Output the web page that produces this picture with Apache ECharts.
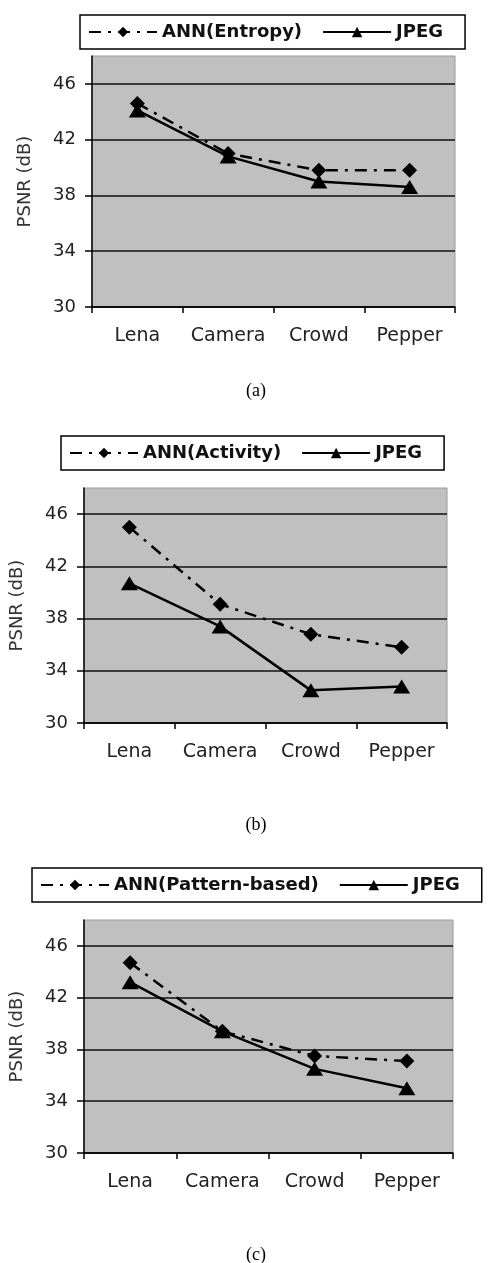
<!DOCTYPE html>
<html>
<head>
<meta charset="utf-8">
<script src="https://cdn.jsdelivr.net/npm/echarts@6/dist/echarts.min.js"></script>
<style>
  html, body { margin: 0; padding: 0; background: #ffffff; }
  #chart { width: 498px; height: 1263px; }
</style>
</head>
<body>
<div id="chart"></div>
<script>
// ---- data ----
const categories = ['Lena', 'Camera', 'Crowd', 'Pepper'];
const annEntropy  = [44.6, 41.0, 39.8, 39.8];
const jpegA       = [44.1, 40.8, 39.0, 38.6];
const annActivity = [45.0, 39.1, 36.8, 35.8];
const jpegB       = [40.7, 37.4, 32.5, 32.8];
const annPattern  = [44.7, 39.4, 37.5, 37.1];
const jpegC       = [43.2, 39.4, 36.5, 35.0];
const annNames = ['ANN(Entropy)', 'ANN(Activity)', 'ANN(Pattern-based)'];
const jpegName = 'JPEG';
const captions = ['(a)', '(b)', '(c)'];
const yMin = 30, yMax = 48, yStep = 4;
const yTitle = 'PSNR (dB)';

// ---- layout ----
const grids = [
  { left: 92, right: 43, top: 56, height: 251 },
  { left: 82, right: 51, top: 488, height: 235 },
  { left: 78, right: 45, top: 920, height: 233 }
];
const legendPos = [
  { left: 80, top: 15 },
  { left: 61, top: 436 },
  { left: 32, top: 868 }
];
const captionY = [391, 825, 1255];
const annData = [annEntropy, annActivity, annPattern];
const jpegData = [jpegA, jpegB, jpegC];

const font = 'DejaVu Sans, Verdana, sans-serif';

const option = {
  backgroundColor: '#ffffff',
  animation: false,
  grid: grids.map(g => Object.assign({
    show: true, backgroundColor: '#c0c0c0', borderColor: '#9a9a9a', borderWidth: 1
  }, g)),
  legend: legendPos.map((p, i) => ({
    left: p.left, top: p.top,
    data: [annNames[i], jpegName],
    orient: 'horizontal',
    itemWidth: 68, itemHeight: 13, itemGap: 20,
    padding: [8, 22, 8, 8],
    borderColor: '#000', borderWidth: 1.5,
    backgroundColor: '#fff',
    selectedMode: false,
    textStyle: { fontFamily: font, fontWeight: 'bold', fontSize: 18, color: '#111' }
  })),
  xAxis: grids.map((g, i) => ({
    type: 'category', gridIndex: i, data: categories, boundaryGap: true,
    axisLine: { lineStyle: { color: '#000', width: 1.5 } },
    axisTick: { show: true, length: 6, lineStyle: { color: '#000', width: 1.5 } },
    axisLabel: { interval: 0, hideOverlap: false, fontFamily: font, fontSize: 19, color: '#222', margin: 20 },
    splitLine: { show: false }
  })),
  yAxis: grids.map((g, i) => ({
    type: 'value', gridIndex: i, min: yMin, max: yMax, interval: yStep,
    name: yTitle, nameLocation: 'middle', nameGap: 58, nameRotate: 90,
    nameTextStyle: { fontFamily: font, fontSize: 18, color: '#333' },
    axisLine: { show: true, lineStyle: { color: '#000', width: 1.5 } },
    axisTick: { show: true, length: 7, lineStyle: { color: '#000', width: 1.5 } },
    axisLabel: { fontFamily: font, fontSize: 18, color: '#222', margin: 16, showMaxLabel: false },
    splitLine: { show: true, showMaxLine: false, lineStyle: { color: '#111', width: 1.5 } }
  })),
  series: [],
  graphic: captionY.map((y, i) => ({
    type: 'text', x: 256, y: y,
    style: { text: captions[i], fontFamily: 'Liberation Serif, Times New Roman, serif', fontSize: 18,
             fill: '#000', align: 'center', verticalAlign: 'middle' }
  }))
};

for (let i = 0; i < 3; i++) {
  option.series.push({
    type: 'line', name: annNames[i], xAxisIndex: i, yAxisIndex: i,
    data: annData[i], symbol: 'diamond', symbolSize: 15,
    lineStyle: { color: '#000', width: 2.5, type: [12, 7, 3, 7] },
    itemStyle: { color: '#000' }, z: 3
  });
  option.series.push({
    type: 'line', name: jpegName, xAxisIndex: i, yAxisIndex: i,
    data: jpegData[i], symbol: 'triangle', symbolSize: [17, 14],
    lineStyle: { color: '#000', width: 2.5, type: 'solid' },
    itemStyle: { color: '#000' }, z: 4
  });
}

const chart = echarts.init(document.getElementById('chart'), null, { renderer: 'canvas' });
chart.setOption(option);
</script>
</body>
</html>
